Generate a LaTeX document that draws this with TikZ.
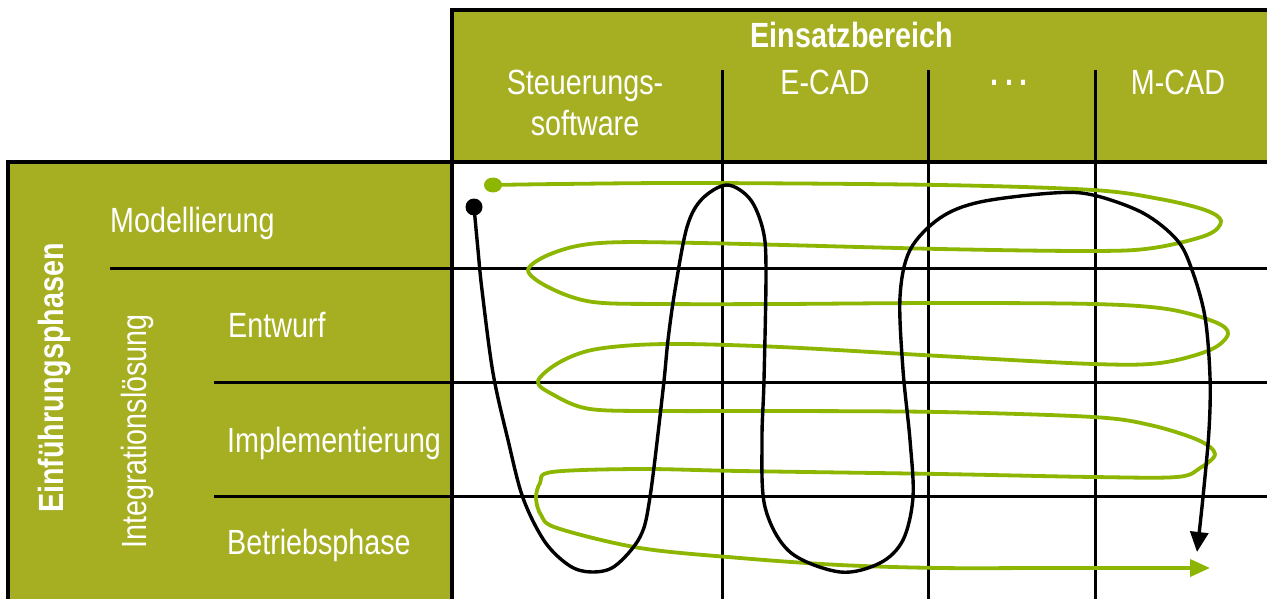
\documentclass[tikz,border=0pt]{standalone}
\usepackage{fontspec}
\setmainfont{Liberation Sans}[FakeStretch=0.82]
\usetikzlibrary{arrows.meta}
\definecolor{boxgreen}{RGB}{166,174,34}
\definecolor{curvegreen}{RGB}{140,182,0}
\begin{document}
\begin{tikzpicture}[x=1pt,y=-1pt,
  lbl/.style={text=white,inner sep=0pt,font=\fontsize{35}{41}\selectfont},
  blbl/.style={lbl,font=\fontsize{35}{41}\selectfont\bfseries},
  border/.style={line width=3.3pt,draw=black},
  gridline/.style={line width=3pt,black},
  gpath/.style={line width=3.8pt,curvegreen,line cap=round,line join=round},
  kpath/.style={line width=3.4pt,black,line cap=round,line join=round}]
\useasboundingbox (0,0) rectangle (1267,599);
\clip (0,0) rectangle (1267,599);
\fill[white] (0,0) rectangle (1267,599);
% boxes
\filldraw[border,fill=boxgreen] (452,10) rectangle (1275,162);
\filldraw[border,fill=boxgreen] (8,162) rectangle (452,610);
% grid lines
\foreach \x in {722,928,1095} \draw[gridline] (\x,70) -- (\x,600);
\draw[gridline] (110,268) -- (1270,268);
\draw[gridline] (214,382) -- (1270,382);
\draw[gridline] (214,496) -- (1270,496);
% header texts
\node[blbl,anchor=base] (einsatz) at (852,48) {Einsatzbereich};
\node[lbl,anchor=base] (steu) at (585,95) {Steuerungs-};
\node[lbl,anchor=base] (soft) at (585,136) {software};
\node[lbl,anchor=base] (ecad) at (825,95) {E-CAD};
\node[blbl,anchor=base] (dots) at (1010,95) {·\hspace{5pt}·\hspace{5pt}·};
\node[lbl,anchor=base] (mcad) at (1178,95) {M-CAD};
% left texts
\node[blbl,anchor=base west,rotate=90] (einf) at (63,513) {Einführungsphasen};
\node[lbl,anchor=base west,rotate=90] (integ) at (146,549) {Integrationslösung};
\node[lbl,anchor=base west] (mod) at (110,233) {Modellierung};
\node[lbl,anchor=base west] (entw) at (228,337) {Entwurf};
\node[lbl,anchor=base west] (impl) at (227,452) {Implementierung};
\node[lbl,anchor=base west] (betr) at (227,554) {Betriebsphase};
% green path
\coordinate (gstart) at (493,185);
\coordinate (kstart) at (474,207);
\draw[gpath,-{Triangle[length=20pt,width=17pt]}] plot[smooth,tension=0.55] coordinates {
(493,185) (560,184) (700,183) (940,185) (1093,190) (1160,199) (1205,210) (1221,221) (1207,235) (1153,248) (1093,251) (940,249) (700,243) (600,243) (553,253) (528,270) (550,288) (593,302) (667,304) (780,304) (940,303) (1093,304) (1167,309) (1215,322) (1228,334) (1210,350) (1160,363) (1093,364) (940,356) (780,347) (667,344) (597,349) (560,362) (538,381) (552,394) (590,409) (667,411) (780,411) (940,412) (1093,417) (1150,425) (1198,440) (1215,454) (1200,468) (1177,477) (1093,477) (940,474) (740,471) (640,469) (552,472) (540,483) (536,498) (541,515) (557,528) (640,548) (740,558) (840,565) (940,568) (1050,568) (1210,568)};
\fill[curvegreen] (gstart) ellipse (9pt and 7.5pt);
% black path
\draw[kpath,-{Triangle[length=20pt,width=18pt]}] plot[smooth,tension=0.55] coordinates {
(474,207) (478,250) (482,290) (493,373) (508,440) (523,498) (545,542) (570,566) (592,572) (615,566) (640,537) (650,497) (663,390) (668,340) (675,290) (687,227) (702,199) (727,185) (750,199) (763,230) (766,270) (764,380) (762,440) (765,507) (790,552) (840,572) (880,563) (903,540) (913,497) (910,440) (903,370) (900,297) (910,250) (940,218) (980,202) (1053,193) (1093,195) (1143,213) (1177,240) (1192,270) (1205,317) (1210,377) (1209,430) (1203,497) (1197,552)};
\fill[black] (kstart) circle (8.5pt);
\end{tikzpicture}
\end{document}
